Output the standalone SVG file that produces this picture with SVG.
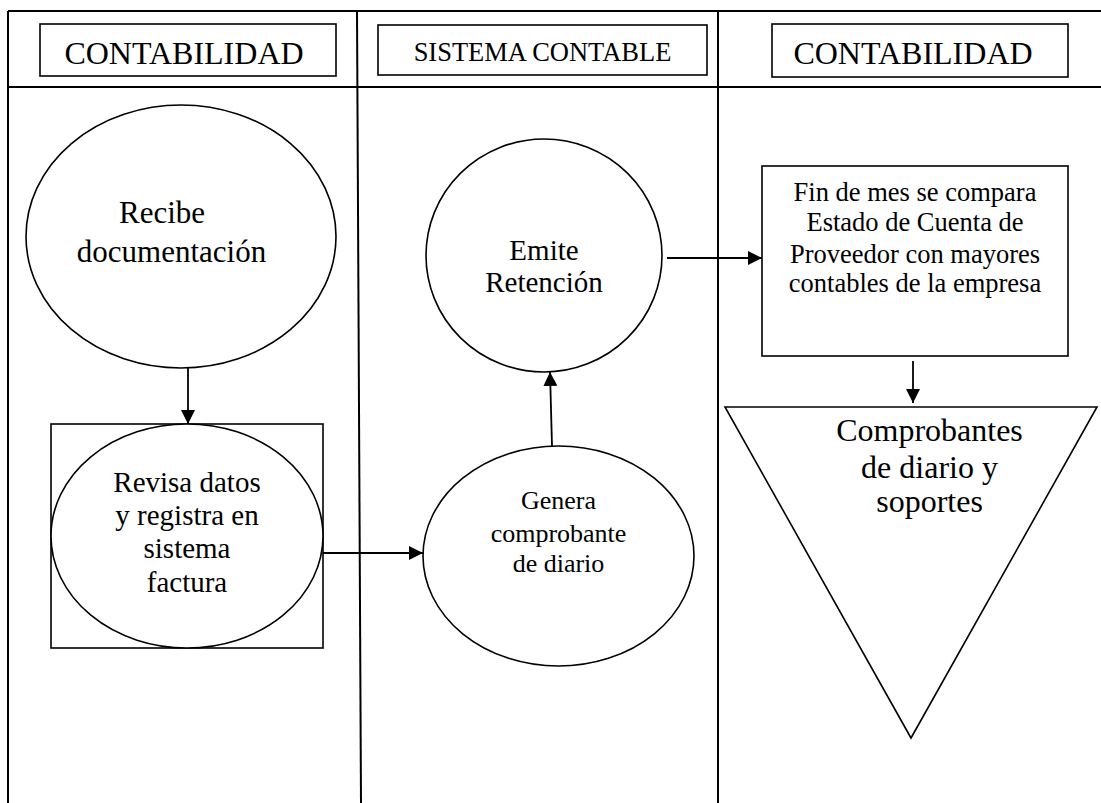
<svg xmlns="http://www.w3.org/2000/svg" width="1101" height="803" viewBox="0 0 1101 803">
  <defs>
    <marker id="arrow" markerUnits="userSpaceOnUse" markerWidth="14" markerHeight="14" refX="14" refY="7" orient="auto">
      <path d="M0,0 L14,7 L0,14 Z" fill="#000"/>
    </marker>
    <style>
      .frame { stroke: #000; stroke-width: 2; fill: none; }
      .shape { stroke: #000; stroke-width: 1.6; fill: #fff; }
      .conn { stroke: #000; stroke-width: 1.8; fill: none; marker-end: url(#arrow); }
      text { font-family: "Liberation Serif", "Times New Roman", serif; fill: #000; text-anchor: middle; }
    </style>
  </defs>
  <rect width="1101" height="803" fill="#fff"/>

  <!-- swimlane frame -->
  <g id="lanes">
    <line class="frame" x1="8" y1="11" x2="1101" y2="11"/>
    <line class="frame" x1="8" y1="87" x2="1101" y2="87"/>
    <line class="frame" x1="8" y1="11" x2="8" y2="803"/>
    <line class="frame" x1="357" y1="11" x2="361" y2="803"/>
    <line class="frame" x1="718" y1="11" x2="718" y2="803"/>
  </g>

  <!-- lane headers -->
  <g id="header-contabilidad-1">
    <rect class="shape" x="40" y="24" width="296" height="52"/>
    <text x="184" y="64" font-size="32">CONTABILIDAD</text>
  </g>
  <g id="header-sistema">
    <rect class="shape" x="378" y="25" width="329" height="50"/>
    <text x="542.5" y="61" font-size="26.5">SISTEMA CONTABLE</text>
  </g>
  <g id="header-contabilidad-2">
    <rect class="shape" x="772" y="24" width="296" height="53"/>
    <text x="913" y="64" font-size="32">CONTABILIDAD</text>
  </g>

  <!-- connectors -->
  <g id="connectors">
    <line class="conn" x1="188" y1="368" x2="188" y2="424"/>
    <line class="conn" x1="323" y1="553" x2="423" y2="553"/>
    <line class="conn" x1="552" y1="446" x2="550" y2="372"/>
    <line class="conn" x1="667" y1="258" x2="762" y2="258"/>
    <line class="conn" x1="913" y1="361" x2="913" y2="403"/>
  </g>

  <g id="recibe">
    <ellipse class="shape" cx="181" cy="236.5" rx="155" ry="131.5"/>
    <text x="162" y="223" font-size="31">Recibe</text>
    <text x="171.5" y="262" font-size="31">documentación</text>
  </g>

  <g id="revisa">
    <rect class="shape" x="51" y="424" width="272" height="224"/>
    <ellipse class="shape" cx="187" cy="536" rx="136" ry="112"/>
    <text x="187" y="492" font-size="29">Revisa datos</text>
    <text x="187" y="525" font-size="29">y registra en</text>
    <text x="187" y="558" font-size="29">sistema</text>
    <text x="187" y="592" font-size="29">factura</text>
  </g>

  <g id="genera">
    <ellipse class="shape" cx="558.5" cy="556" rx="135.5" ry="110"/>
    <text x="558.5" y="509" font-size="26">Genera</text>
    <text x="558.5" y="542" font-size="26">comprobante</text>
    <text x="558.5" y="572" font-size="26">de diario</text>
  </g>

  <g id="emite">
    <ellipse class="shape" cx="544" cy="255.5" rx="118" ry="116.5"/>
    <text x="544" y="260" font-size="29">Emite</text>
    <text x="544" y="292" font-size="29">Retención</text>
  </g>

  <g id="compara">
    <rect class="shape" x="762" y="166" width="306" height="190"/>
    <text x="915" y="201" font-size="26.5">Fin de mes se compara</text>
    <text x="915" y="231" font-size="26.5">Estado de Cuenta de</text>
    <text x="915" y="263" font-size="26.5">Proveedor con mayores</text>
    <text x="915" y="292" font-size="26.5">contables de la empresa</text>
  </g>

  <g id="archivo">
    <polygon class="shape" points="725,407 1097,407 911,738"/>
    <text x="929.5" y="441" font-size="32">Comprobantes</text>
    <text x="929.5" y="478" font-size="32">de diario y</text>
    <text x="929.5" y="512" font-size="32">soportes</text>
  </g>
</svg>
